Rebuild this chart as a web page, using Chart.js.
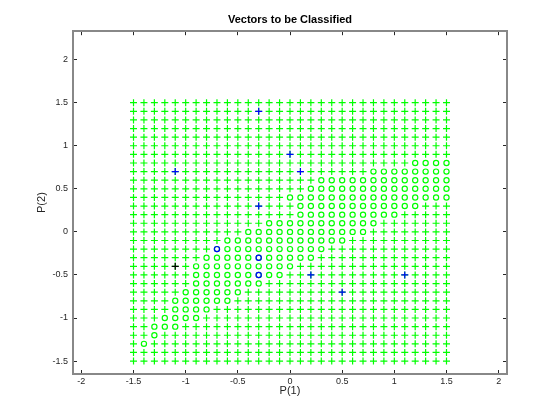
<!DOCTYPE html>
<html>
<head>
<meta charset="utf-8">
<title>Vectors to be Classified</title>
<script src="https://cdn.jsdelivr.net/npm/chart.js@4.4.1/dist/chart.umd.min.js"></script>
<style>
  html, body { margin: 0; padding: 0; background: #fff; }
  #chart { display: block; }
</style>
</head>
<body>
<canvas id="chart" width="560" height="420"></canvas>
<script>
// test vectors lie on a regular grid
const gridX = [-1.5, -1.4, -1.3, -1.2, -1.1, -1.0, -0.9, -0.8, -0.7, -0.6, -0.5, -0.4, -0.3, -0.2, -0.1, 0,
               0.1, 0.2, 0.3, 0.4, 0.5, 0.6, 0.7, 0.8, 0.9, 1.0, 1.1, 1.2, 1.3, 1.4, 1.5];
const gridY = [1.5, 1.4, 1.3, 1.2, 1.1, 1.0, 0.9, 0.8, 0.7, 0.6, 0.5, 0.4, 0.3, 0.2, 0.1, 0,
               -0.1, -0.2, -0.3, -0.4, -0.5, -0.6, -0.7, -0.8, -0.9, -1.0, -1.1, -1.2, -1.3, -1.4, -1.5];

// rows where the grid was classified as "o": from x .. to x (inclusive)
const circleRowY  = [0.8, 0.7, 0.6, 0.5, 0.4, 0.3, 0.2, 0.1, 0, -0.1, -0.2, -0.3, -0.4, -0.5, -0.6, -0.7, -0.8, -0.9, -1.0, -1.1, -1.2, -1.3];
const circleFromX = [1.2, 0.8, 0.3, 0.2, 0, 0.1, 0.1, -0.2, -0.4, -0.6, -0.7, -0.8, -0.9, -0.9, -0.9, -1.0, -1.1, -1.1, -1.2, -1.3, -1.3, -1.4];
const circleToX   = [1.5, 1.5, 1.5, 1.5, 1.5, 1.2, 1.0, 0.8, 0.7, 0.5, 0.3, 0.2, 0, -0.1, -0.3, -0.5, -0.6, -0.8, -0.9, -1.1, -1.3, -1.4];

// training vectors
const bluePlusX = [-0.3, 0, -1.1, 0.1, -0.3, 0.2, 1.1, 0.5];
const bluePlusY = [1.4, 0.9, 0.7, 0.7, 0.3, -0.5, -0.5, -0.7];
const blackPlusX = [-1.1];
const blackPlusY = [-0.4];
const blueCircleX = [-0.7, -0.3, -0.3];
const blueCircleY = [-0.2, -0.3, -0.5];

const xTicks = [-2, -1.5, -1, -0.5, 0, 0.5, 1, 1.5, 2];
const yTicks = [-1.5, -1, -0.5, 0, 0.5, 1, 1.5, 2];

function isCircle(x, y) {
  const row = circleRowY.findIndex(v => Math.abs(v - y) < 1e-6);
  if (row < 0) return false;
  return x >= circleFromX[row] - 1e-6 && x <= circleToX[row] + 1e-6;
}

const gridPlus = [];
const gridCircle = [];
gridY.forEach(y => {
  gridX.forEach(x => {
    (isCircle(x, y) ? gridCircle : gridPlus).push({ x: x, y: y });
  });
});

function zip(xs, ys) {
  return xs.map((x, i) => ({ x: x, y: ys[i] }));
}

Chart.defaults.font.family = "'Liberation Sans', Arial, sans-serif";

const textColor = '#262626';
const tickFont = { size: 9 };
const gridOpts = { drawOnChartArea: false, drawTicks: true, tickLength: -4, color: '#262626', lineWidth: 1 };
const borderOpts = { color: '#888888', width: 2 };

function setTicks(values) {
  return function(scale) {
    scale.ticks = values.map(v => ({ value: v }));
  };
}

const ctx = document.getElementById('chart').getContext('2d');
const chart = new Chart(ctx, {
  type: 'scatter',
  data: {
    datasets: [
      {
        data: zip(blueCircleX, blueCircleY),
        pointStyle: 'circle', pointRadius: 2.6, pointBorderWidth: 1.2,
        pointBorderColor: '#0000ff', pointBackgroundColor: 'rgba(0,0,0,0)'
      },
      {
        data: zip(blackPlusX, blackPlusY),
        pointStyle: 'cross', pointRadius: 3.5, pointBorderWidth: 1.2,
        pointBorderColor: '#000000'
      },
      {
        data: zip(bluePlusX, bluePlusY),
        pointStyle: 'cross', pointRadius: 3.5, pointBorderWidth: 1.2,
        pointBorderColor: '#0000ff'
      },
      {
        data: gridCircle,
        pointStyle: 'circle', pointRadius: 2.6, pointBorderWidth: 1.2,
        pointBorderColor: '#00ff00', pointBackgroundColor: 'rgba(0,0,0,0)'
      },
      {
        data: gridPlus,
        pointStyle: 'cross', pointRadius: 3.5, pointBorderWidth: 1.2,
        pointBorderColor: '#00ff00'
      }
    ]
  },
  options: {
    responsive: false,
    animation: false,
    devicePixelRatio: 1,
    layout: { padding: { left: 0, right: 53, top: 0, bottom: 0 } },
    plugins: {
      legend: { display: false },
      tooltip: { enabled: false },
      title: {
        display: true,
        fullSize: false,
        text: 'Vectors to be Classified',
        color: '#000000',
        font: { size: 11, weight: 'bold' },
        padding: { top: 13, bottom: 5 }
      }
    },
    scales: {
      x: {
        type: 'linear', position: 'bottom', min: -2.08, max: 2.08,
        afterBuildTicks: setTicks(xTicks),
        afterFit: function(scale) { scale.height = 46; },
        ticks: { callback: v => String(v), font: tickFont, color: textColor, padding: 6, maxRotation: 0, autoSkip: false },
        grid: gridOpts,
        border: borderOpts,
        title: { display: true, text: 'P(1)', color: textColor, font: { size: 11 }, padding: { top: 0, bottom: 22 } }
      },
      x2: {
        type: 'linear', position: 'top', min: -2.08, max: 2.08,
        afterBuildTicks: setTicks(xTicks),
        afterFit: function(scale) { scale.height = 0; },
        ticks: { display: false },
        grid: gridOpts,
        border: borderOpts
      },
      y: {
        type: 'linear', position: 'left', min: -1.65, max: 2.33,
        afterBuildTicks: setTicks(yTicks),
        afterFit: function(scale) { scale.width = 73; },
        ticks: { callback: v => String(v), font: tickFont, color: textColor, padding: 9, autoSkip: false },
        grid: gridOpts,
        border: borderOpts,
        title: { display: true, text: 'P(2)', color: textColor, font: { size: 11 }, padding: { top: 35, bottom: 0 } }
      },
      y2: {
        type: 'linear', position: 'right', min: -1.65, max: 2.33,
        afterBuildTicks: setTicks(yTicks),
        afterFit: function(scale) { scale.width = 0; },
        ticks: { display: false },
        grid: gridOpts,
        border: borderOpts
      }
    }
  }
});
</script>
</body>
</html>
